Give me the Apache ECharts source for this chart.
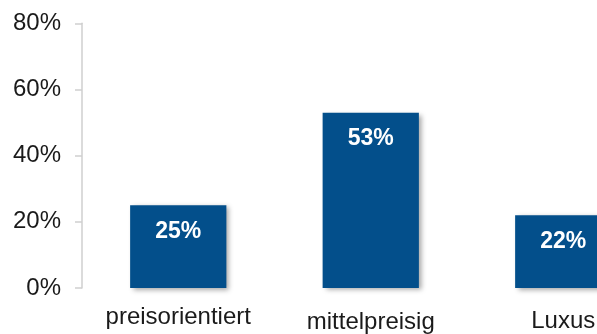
<!DOCTYPE html>
<html>
<head>
<meta charset="utf-8">
<style>
  html, body { margin: 0; padding: 0; background: #ffffff; overflow: hidden; }
  /* the plot runs past the right edge of the window, so the last bar is cut off */
  #chart { width: 660px; height: 334px; }
</style>
<script src="https://cdn.jsdelivr.net/npm/echarts@6/dist/echarts.min.js"></script>
</head>
<body>
<div id="chart"></div>
<script>
// Share of respondents by price segment
const categories = ['preisorientiert', 'mittelpreisig', 'Luxus'];
const shares = [25, 53, 22];
const yTicks = [0, 20, 40, 60, 80];
// small per-label vertical nudges for the category names
const labelNudge = [0, 5, 4];

const FONT = '"Liberation Sans", Arial, sans-serif';
const BAR_COLOR = '#034f8b';

const chart = echarts.init(document.getElementById('chart'), null, { renderer: 'canvas' });

chart.setOption({
  animation: false,
  backgroundColor: '#ffffff',
  grid: { left: 82, top: 23.3, bottom: 40.7, right: 0.5, containLabel: false },
  xAxis: {
    type: 'category',
    data: categories.map((c, i) => ({
      value: c,
      textStyle: { padding: [labelNudge[i], 0, 0, 0] }
    })),
    axisLine: { show: false },
    axisTick: { show: false },
    axisLabel: {
      fontFamily: FONT,
      fontSize: 24,
      color: '#1a1a1a',
      margin: 17,
      interval: 0
    }
  },
  yAxis: {
    type: 'value',
    min: yTicks[0],
    max: yTicks[yTicks.length - 1],
    interval: yTicks[1] - yTicks[0],
    axisLine: { show: true, lineStyle: { color: '#cfcfcf', width: 1.5 } },
    axisTick: { show: true, length: 7, lineStyle: { color: '#cfcfcf', width: 1.5 } },
    splitLine: { show: false },
    axisLabel: {
      formatter: '{value}%',
      fontFamily: FONT,
      fontSize: 24,
      color: '#1a1a1a',
      margin: 21
    }
  },
  series: [{
    type: 'bar',
    data: shares,
    barWidth: '50%',
    itemStyle: {
      color: BAR_COLOR,
      shadowColor: 'rgba(0,0,0,0.35)',
      shadowBlur: 5,
      shadowOffsetX: 3,
      shadowOffsetY: 2
    },
    label: {
      show: true,
      position: 'insideTop',
      distance: 15,
      formatter: '{c}%',
      fontFamily: FONT,
      fontSize: 23,
      fontWeight: 'bold',
      color: '#ffffff'
    }
  }]
});
</script>
</body>
</html>
